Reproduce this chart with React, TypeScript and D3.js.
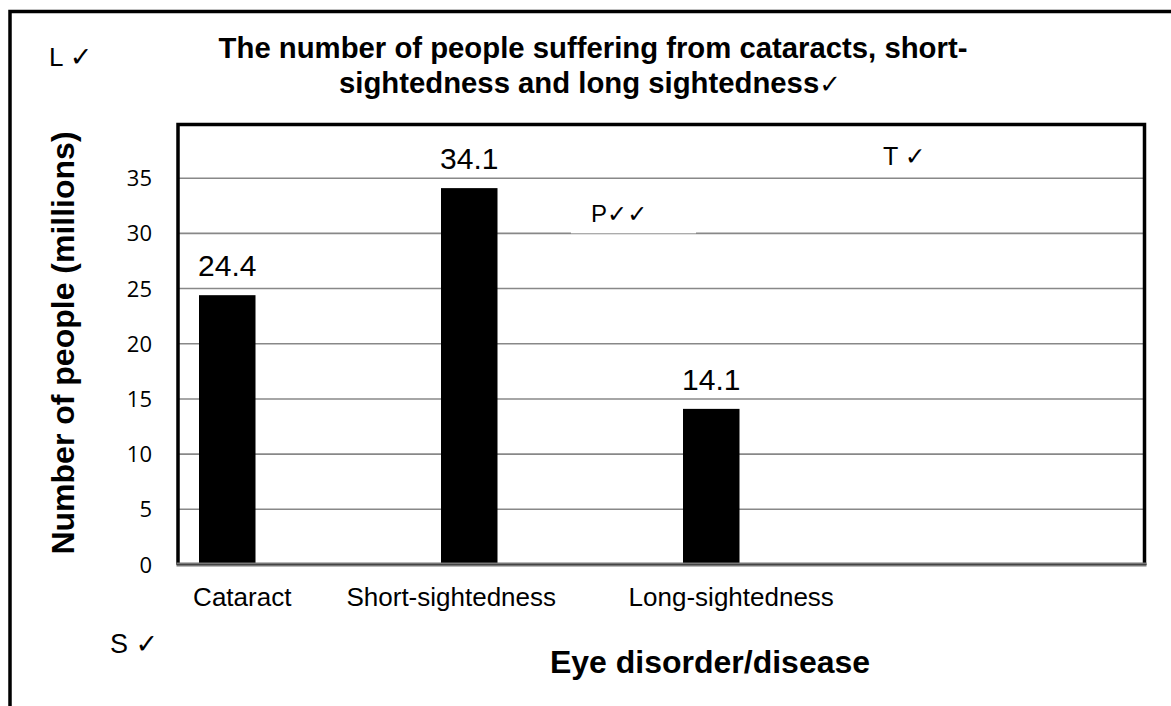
import React from "react";
import * as d3 from "d3";

const categories = ["Cataract", "Short-sightedness", "Long-sightedness", ""];
const values = [24.4, 34.1, 14.1];
const valueLabels = ["24.4", "34.1", "14.1"];
const yTicks = [0, 5, 10, 15, 20, 25, 30, 35];
const labelOffsets = [15, -18, 20];

const W = 1171;
const H = 706;
const plot = { left: 178, right: 1144.5, top: 124.5, bottom: 564.5 };

export default function App() {
  const x = d3
    .scaleBand<string>()
    .domain(categories)
    .range([178, 1146])
    .paddingInner(0)
    .paddingOuter(0);
  const y = d3.scaleLinear().domain([0, 40]).range([564.5, 123]);
  const barOffset = 21;
  const barW = 56.5;
  const arial = "'Liberation Sans', Arial, sans-serif";
  const calibri = "'Open Sans', 'Liberation Sans', sans-serif";
  const check = "'DejaVu Sans', sans-serif";

  return (
    <svg
      width={W}
      height={H}
      style={{ position: "absolute", left: 0, top: 0, background: "#fff" }}
    >
      <rect x={0} y={0} width={W} height={H} fill="#fff" />
      {/* outer frame */}
      <rect x={10} y={11.5} width={W + 20} height={H + 20} fill="none" stroke="#000" strokeWidth={3.5} />

      {/* title */}
      <text x={593} y={58} textAnchor="middle" fontFamily={arial} fontWeight="bold" fontSize={29.3} fill="#000">
        The number of people suffering from cataracts, short-
      </text>
      <text x={590} y={93} textAnchor="middle" fontFamily={arial} fontWeight="bold" fontSize={29.3} fill="#000">
        sightedness and long sightedness
        <tspan fontFamily={check} fontWeight="normal" fontSize={26}>✓</tspan>
      </text>

      <text x={49} y={66} fontFamily={arial} fontSize={26} fill="#000">
        L <tspan fontFamily={check} fontSize={27}>✓</tspan>
      </text>

      {/* gridlines */}
      {yTicks.slice(1).map((t) => (
        <line key={t} x1={plot.left} x2={plot.right} y1={y(t)} y2={y(t)} stroke="#888" strokeWidth={1.6} />
      ))}

      {/* P box */}
      <rect x={571} y={200} width={125} height={33.3} fill="#fff" />
      <text x={591} y={222} fontFamily={arial} fontSize={24} fill="#000">
        P<tspan fontFamily={check} fontSize={24}>✓✓</tspan>
      </text>
      <text x={883} y={165} fontFamily={arial} fontSize={25} fill="#000">
        T <tspan fontFamily={check} fontSize={25}>✓</tspan>
      </text>

      {/* bars */}
      {values.map((v, i) => {
        const bx = (x(categories[i]) as number) + barOffset;
        return (
          <g key={i}>
            <rect x={bx} y={y(v)} width={barW} height={y(0) - y(v)} fill="#000" />
            <text
              x={bx + barW / 2}
              y={y(v) - 19}
              textAnchor="middle"
              fontFamily={arial}
              fontSize={30}
              fill="#000"
            >
              {valueLabels[i]}
            </text>
            <text
              x={bx + barW / 2 + labelOffsets[i]}
              y={606}
              textAnchor="middle"
              fontFamily={arial}
              fontSize={26}
              fill="#000"
            >
              {categories[i]}
            </text>
          </g>
        );
      })}

      {/* plot border */}
      <path
        d={`M${plot.left},${plot.bottom} V${plot.top} H${plot.right} V${plot.bottom}`}
        fill="none"
        stroke="#000"
        strokeWidth={3.5}
      />
      <line x1={plot.left - 1.5} x2={plot.right + 2} y1={564.5} y2={564.5} stroke="#777" strokeWidth={4} />
      <line x1={plot.left - 1.5} x2={plot.right + 2} y1={564.5} y2={564.5} stroke="#444" strokeWidth={1.2} />

      {/* y tick labels */}
      {yTicks.map((t) => (
        <text key={t} x={152} y={y(t) + 8} textAnchor="end" fontFamily={calibri} fontSize={22} fill="#000">
          {t}
        </text>
      ))}

      {/* y axis title */}
      <text
        transform={`translate(74,343) rotate(-90)`}
        textAnchor="middle"
        fontFamily={arial}
        fontWeight="bold"
        fontSize={32}
        fill="#000"
      >
        Number of people (millions)
      </text>

      <text x={110} y={653} fontFamily={arial} fontSize={27} fill="#000">
        S <tspan fontFamily={check} fontSize={27}>✓</tspan>
      </text>

      {/* x axis title */}
      <text x={710} y={673} textAnchor="middle" fontFamily={arial} fontWeight="bold" fontSize={32} fill="#000">
        Eye disorder/disease
      </text>
    </svg>
  );
}
